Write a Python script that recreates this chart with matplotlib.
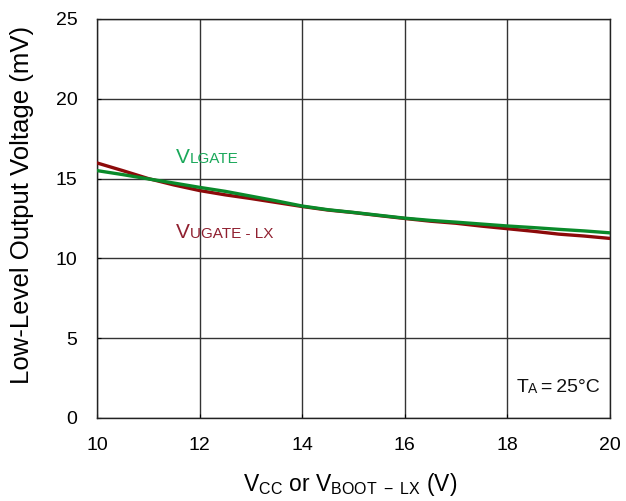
import matplotlib
matplotlib.use("Agg")
import matplotlib.pyplot as plt

plt.rcParams['font.family'] = ['Liberation Sans', 'DejaVu Sans']
plt.rcParams['mathtext.fontset'] = 'custom'
plt.rcParams['mathtext.rm'] = 'Liberation Sans'
plt.rcParams['mathtext.it'] = 'Liberation Sans:italic'

# supply voltage sweep (V)
vsupply = [10, 10.5, 11, 11.5, 12, 12.5, 13, 13.5, 14, 14.5, 15, 15.5,
           16, 16.5, 17, 17.5, 18, 18.5, 19, 19.5, 20]
# low-level output voltage (mV)
v_lgate = [15.50, 15.25, 14.98, 14.72, 14.45, 14.20, 13.90, 13.60, 13.28, 13.05, 12.88,
           12.70, 12.52, 12.38, 12.27, 12.15, 12.03, 11.93, 11.82, 11.72, 11.60]
v_ugate = [15.98, 15.50, 15.00, 14.60, 14.25, 13.98, 13.75, 13.50, 13.25, 13.03, 12.87,
           12.68, 12.50, 12.33, 12.20, 12.02, 11.86, 11.70, 11.52, 11.40, 11.25]

xticks = [10, 12, 14, 16, 18, 20]
yticks = [0, 5, 10, 15, 20, 25]

fig = plt.figure(figsize=(6.26, 5.01), dpi=100)
ax = fig.add_axes([0.155, 0.1657, 0.8195, 0.7964])

ax.plot(vsupply, v_ugate, color='#8c0a0a', lw=2.4, zorder=3)
ax.plot(vsupply, v_lgate, color='#0a8a2a', lw=2.4, zorder=4)

ax.set_xlim(10, 20)
ax.set_ylim(0, 25)
ax.set_xticks(xticks)
ax.set_yticks(yticks)
ax.grid(True, color='#333333', lw=1.0)
ax.tick_params(direction='in', length=3, width=0.8, labelsize=14, pad=14)
for s in ax.spines.values():
    s.set_color('#222222')
    s.set_linewidth(1.0)

fig.text(22 / 626, 1 - 205 / 501, 'Low-Level Output Voltage (mV)', fontsize=18.5,
         rotation=90, ha='center', va='center')
fig.text(350 / 626, 1 - 485 / 501, r'V$_{\mathrm{CC}}$ or V$_{\mathrm{BOOT\ -\ LX}}$ (V)',
         fontsize=16.5, ha='center', va='center')

# title runs off the top edge, only the descenders show
fig.text(28 / 626, 1.011, 'Low-Level Output Voltage vs. Supply Voltage',
         fontsize=19, fontweight='bold', ha='left', va='baseline')

# labels built from a large letter followed by smaller caps
def chain(x, y, parts, color):
    t = ax.text(x, y, parts[0][0], fontsize=parts[0][1], color=color,
                va='center', ha='left', zorder=5)
    for s, fs in parts[1:]:
        t = ax.annotate(s, xy=(1, 0), xycoords=t, va='bottom', ha='left',
                        fontsize=fs, color=color,
                        xytext=(0, 0.2 * (parts[0][1] - fs) / 4), textcoords='offset points')
    return t

chain(11.54, 16.35, [('V', 15), ('LGATE', 11)], '#1aa85a')
chain(11.54, 11.65, [('V', 15), ('UGATE - LX', 11)], '#902030')
chain(18.17, 1.88, [('T', 14), ('A', 10), ('\u2009=\u200925°C', 14)], '#111111')

fig.savefig('out.png', dpi=100)
